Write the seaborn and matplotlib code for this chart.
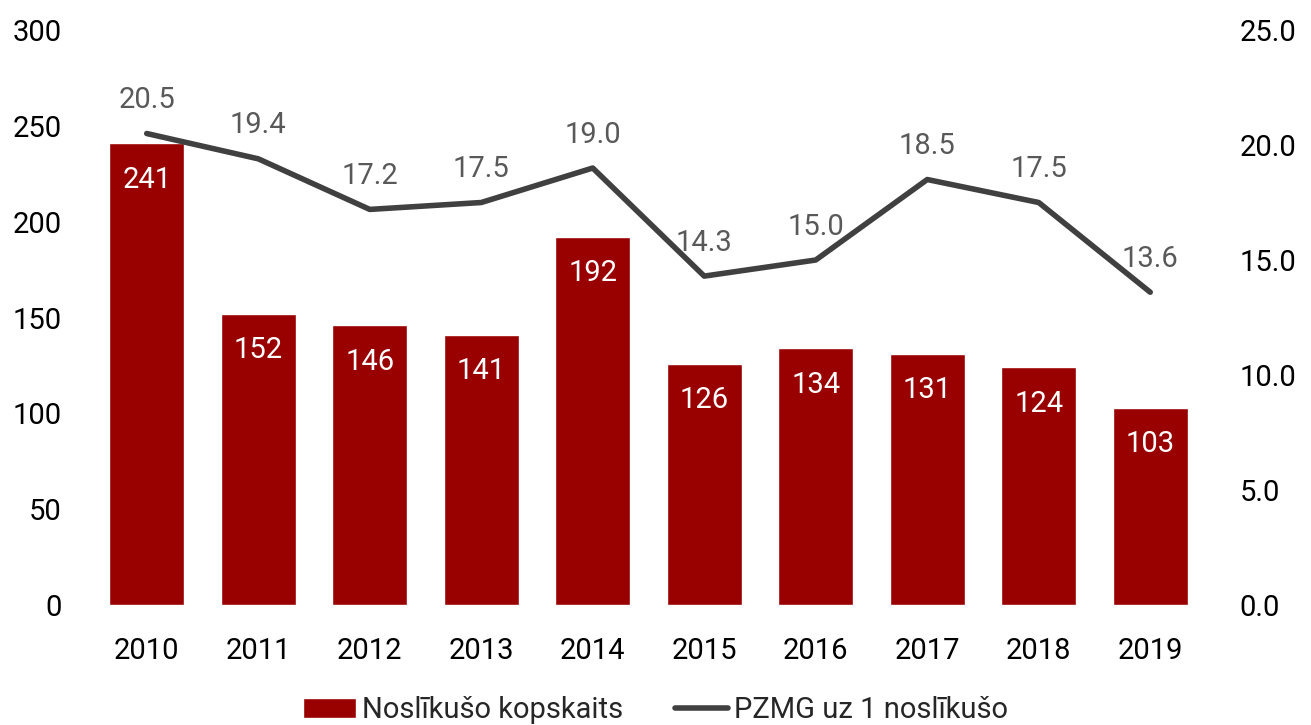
import numpy as np
import pandas as pd
import matplotlib.pyplot as plt
import seaborn as sns

# Data
years = ["2010", "2011", "2012", "2013", "2014", "2015", "2016", "2017", "2018", "2019"]
drowned_total = [241, 152, 146, 141, 192, 126, 134, 131, 124, 103]
pzmg_per_drowned = [20.5, 19.4, 17.2, 17.5, 19.0, 14.3, 15.0, 18.5, 17.5, 13.6]

bar_name = "Noslīkušo kopskaits"
line_name = "PZMG uz 1 noslīkušo"

df = pd.DataFrame({"year": years, "total": drowned_total, "pzmg": pzmg_per_drowned})
df["pos"] = np.arange(len(df))

sns.set_style("white")
plt.rcParams["font.family"] = ["Roboto", "DejaVu Sans"]

bar_color = "#990000"
line_color = "#404040"
fs = 21

fig = plt.figure(figsize=(13.11, 7.25), dpi=100)
ax = fig.add_axes([0.0694, 0.1655, 0.8505, 0.7931])

sns.barplot(data=df, x="year", y="total", color=bar_color, width=0.67,
            saturation=1, ax=ax, label=bar_name)
ax.set_ylim(0, 300)
ax.set_yticks(np.arange(0, 301, 50))
ax.set_xlim(-0.5, len(years) - 0.5)

ax2 = ax.twinx()
sns.lineplot(data=df, x="pos", y="pzmg", color=line_color, linewidth=4,
             ax=ax2, label=line_name, legend=False)
ax2.set_ylim(0, 25)
ax2.set_yticks(np.arange(0, 25.1, 5))
ax2.set_yticklabels([f"{v:.1f}" for v in np.arange(0, 25.1, 5)])
ax2.set_xlim(-0.5, len(years) - 0.5)

# value labels
for i, v in enumerate(drowned_total):
    ax.text(i, v - 19, str(v), ha="center", va="center", color="white", fontsize=fs)
for i, v in enumerate(pzmg_per_drowned):
    ax2.text(i, v + 1.45, f"{v:.1f}", ha="center", va="center", color="#595959", fontsize=fs)

for a in (ax, ax2):
    for s in a.spines.values():
        s.set_visible(False)
    a.tick_params(length=0, labelsize=fs, colors="black")
    a.set_xlabel("")
    a.set_ylabel("")
ax.tick_params(axis="y", pad=21)
ax.tick_params(axis="x", pad=23)
ax2.tick_params(axis="y", pad=24)

h1, l1 = ax.get_legend_handles_labels()
h2, l2 = ax2.get_legend_handles_labels()
if ax.get_legend():
    ax.get_legend().remove()
fig.legend(h1 + h2, l1 + l2, loc="lower center", bbox_to_anchor=(0.5, -0.035),
           ncol=2, frameon=False, fontsize=fs, handlelength=1.8,
           handletextpad=0.2, columnspacing=1.8)

fig.savefig("out.png", dpi=100)
